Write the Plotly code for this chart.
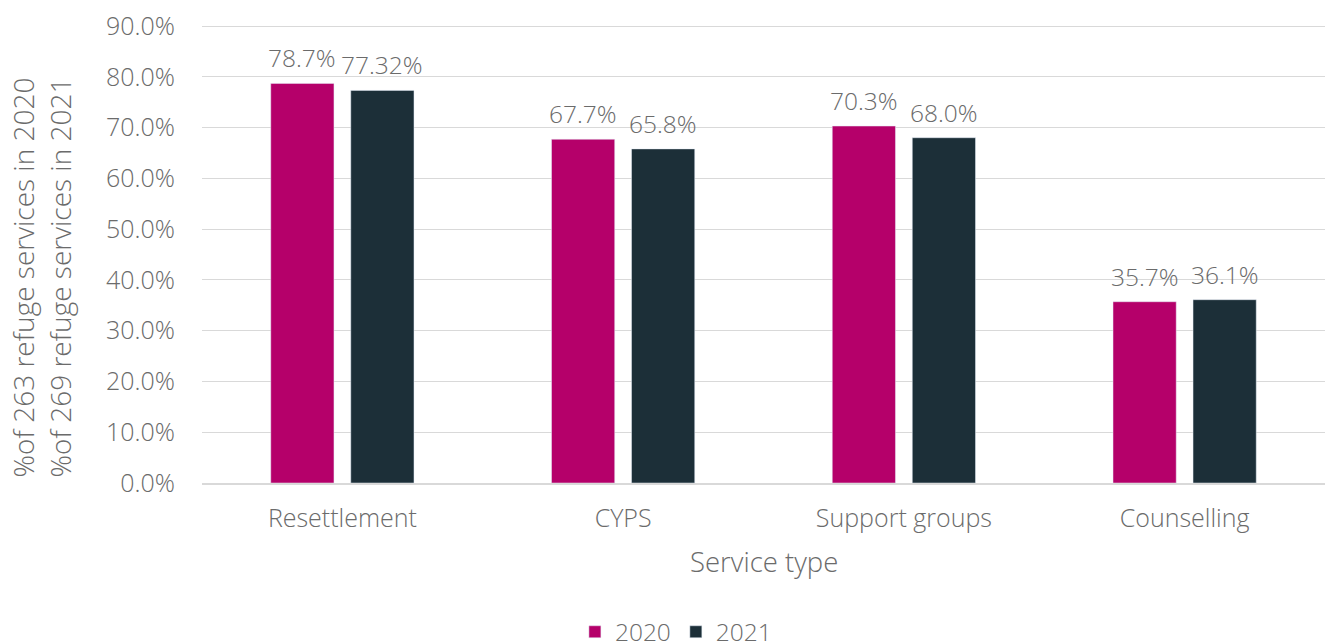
import plotly.graph_objects as go

categories = ["Resettlement", "CYPS", "Support groups", "Counselling"]
values_2020 = [78.7, 67.7, 70.3, 35.7]
values_2021 = [77.32, 65.8, 68.0, 36.1]
labels_2020 = ["78.7%", "67.7%", "70.3%", "35.7%"]
labels_2021 = ["77.32%", "65.8%", "68.0%", "36.1%"]
tick_vals = [0, 10, 20, 30, 40, 50, 60, 70, 80, 90]
tick_text = [f"{v:.1f}%" for v in tick_vals]
y_title = "%of 263 refuge services in 2020<br>%of 269 refuge services in 2021"
x_title = "Service type"

FONT = "Open Sans"
GREY = "#6b6b6b"
W = 300

fig = go.Figure()
fig.add_trace(go.Bar(name="2020", x=categories, y=values_2020, marker_color="#B5006A"))
fig.add_trace(go.Bar(name="2021", x=categories, y=values_2021, marker_color="#1C2F38"))

annotations = []
for labels, values, shift in ((labels_2020, values_2020, -40), (labels_2021, values_2021, 40)):
    for cat, val, lab in zip(categories, values, labels):
        annotations.append(dict(x=cat, y=val, xref="x", yref="y", text=lab, showarrow=False,
                                xanchor="center", yanchor="bottom", xshift=shift, yshift=7,
                                font=dict(size=24.5, color=GREY, family=FONT, weight=W)))

annotations += [
    dict(text=y_title, xref="paper", yref="paper", x=-0.1434, y=0.4486,
         xanchor="center", yanchor="middle", textangle=-90, showarrow=False,
         font=dict(size=28, color=GREY, family=FONT, weight=W)),
    dict(text=x_title, xref="paper", yref="paper", x=0.5, y=-0.1707,
         xanchor="center", yanchor="middle", showarrow=False,
         font=dict(size=27.5, color=GREY, family=FONT, weight=W)),
]

fig.update_layout(
    width=1327, height=636,
    margin=dict(l=194, r=10, t=17, b=161, autoexpand=False),
    plot_bgcolor="white", paper_bgcolor="white",
    font=dict(family=FONT, color=GREY, size=24.5, weight=W),
    barmode="group", bargap=0.43, bargroupgap=0.21,
    showlegend=True,
    legend=dict(orientation="h", x=0.422, xanchor="center", y=-0.325, yanchor="middle",
                font=dict(size=24.5, color=GREY, family=FONT, weight=W),
                itemwidth=30, tracegroupgap=0),
    xaxis=dict(tickfont=dict(size=25, color=GREY, family=FONT, weight=W), showline=True,
               linecolor="#D9D9D9", linewidth=2, ticks="", automargin=False,
               ticklabelstandoff=12),
    yaxis=dict(range=[0, 90.2], tickvals=tick_vals, ticktext=tick_text,
               tickfont=dict(size=25, color=GREY, family=FONT, weight=W),
               gridcolor="#D9D9D9", gridwidth=1, ticklabeloverflow="allow",
               zeroline=False, ticks="", ticklabelstandoff=26, automargin=False),
    annotations=annotations,
)

fig.write_html("out.html")
